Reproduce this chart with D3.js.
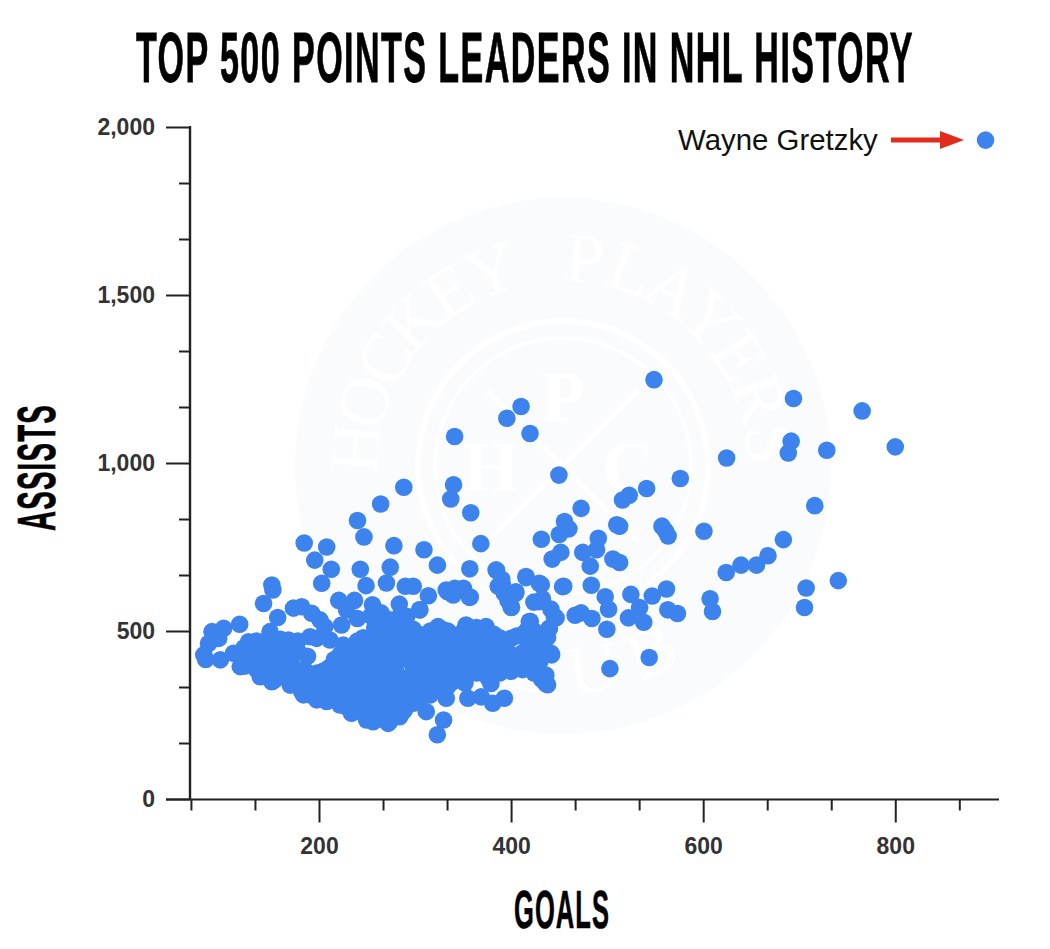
<!DOCTYPE html>
<html>
<head>
<meta charset="utf-8">
<style>html,body{margin:0;padding:0;background:#fff}svg{display:block}</style>
<script src="https://cdn.jsdelivr.net/npm/d3@7/dist/d3.min.js"></script>
</head>
<body>
<svg id="chart" width="1050" height="949"></svg>
<script>
const titleText = "TOP 500 POINTS LEADERS IN NHL HISTORY";
const xLabel = "GOALS";
const yLabel = "ASSISTS";
const calloutName = "Wayne Gretzky";
const watermarkTop = "HOCKEY PLAYERS";
const watermarkBottom = "CLUB";
const xMajorTicks = [200, 400, 600, 800];
const xMinorTicks = [66.67, 133.33, 266.67, 333.33, 466.67, 533.33, 666.67, 733.33, 866.67];
const yMajorTicks = [0, 500, 1000, 1500, 2000];
const yMinorTicks = [166.67, 333.33, 666.67, 833.33, 1166.67, 1333.33, 1666.67, 1833.33];

const gretzkyGoals = [894];
const gretzkyAssists = [1961];

const upperGoals = [548.8,694,765.5,410.4,395.6,419.7,341.2,691.6,688.6,624.4,728.7,800,449.8,576.2,288.3,340.1,337.2,541.1,264.2,523,516,716.2,358,240.1,472.9,513,510,557.1,560.7,563.5,600.8,455.6,460.2,450.2,246.8,431.5,683.5,184.6,208,278,368.5,309.3,490.8,489,474.6,451.8,442.8,506,513,482.4,195.6,667.5,655.5,639.4,624,323.3,357,212.8,243,274.2,384.9,415.7,390.3,386.6,202.8,249,270.2,289.9,298.1,454.8,483.5,431.5,707.2,705.5,740.7,561.8,547,524.7,498,533.8,607.2,609.7,563.2,573.2,501.5,522.2,538.1,499.7,472.9,484.2,466.7,543.8,502.9];
const upperAssists = [1248,1192,1155,1168,1133,1088,1079,1065,1030,1015,1038,1048,964,954,928,935,893,924,878,904,890,873,852,829,865,812,816,812,798,783,797,826,804,787,780,773,772,762,750,754,760,742,776,742,734,734,714,714,704,693,711,724,696,696,674,696,685,684,684,690,680,659,654,633,642,635,643,633,633,633,636,638,628,570,650,625,604,609,602,570,596,558,563,552,565,539,526,505,554,537,547,421,388];

const midGoals = [220.6,237,255.7,264.6,283.6,313.9,305,291.4,240,223.5,404.7,396.8,400.4,393,332.5,341.5,350.4,339.7,357.5,423.7,432.6,441.5,446.9,420,416.5,439.7,438,442.2,436,438,431.9,429.4,415.5,405,391,384.4,400,453.6,429,445,228.7,254,263,273.7,284,304.8,334,348,356.7,152,150.9,142.3,157];
const midAssists = [591,591,578,554,580,605,563,544,537,518,612,591,570,612,622,627,627,607,601,586,596,565,539,528,502,507,481,429,367,340,356,642,662,617,637,682,572,632,587,543,563,545,553,533,543,563,617,624,600,622,637,582,540];

const edgeGoals = [80,82,85,88.6,100.7,95.6,117.4,97.3,118,111,126.7,138.8,150.9,149,168.2,170,183.8,197.6,208,221.8,233.9,249.5,256.4,272,284,289,311.7,329.7,323.2,332.5,355,368.8,380.9,393,379,436,436,441.5,173.4,182,192.4,201,206,197.6,211.4,225.3,190.7,353.2,374,419,439.7,323.9];
const edgeAssists = [429,415,463,498,508,478,520,414,394,434,468,364,349,498,473,339,310,295,290,280,255,235,230,225,245,265,260,235,191,300,300,304,285,300,344,344,369,434,568,572,553,533,513,478,473,458,483,518,513,528,508,513];

const coreGoals = [122,122,122,135,135,135,135,148,148,148,148,165,165,165,160,172,172,172,172,178,178,188,185,185,185,198,198,198,210,210,210,210,222,222,222,222,222,222,234,234,234,234,234,234,234,246,246,246,246,246,246,246,246,246,258,258,258,258,258,258,258,258,258,258,258,268,268,268,268,268,268,268,268,268,268,268,280,280,280,280,280,280,280,280,280,292,292,292,292,292,292,292,304,304,304,304,304,304,304,304,316,316,316,316,316,316,316,316,328,328,328,328,328,328,328,328,340,340,340,340,340,340,352,352,352,352,352,352,352,364,364,364,364,364,364,376,376,376,376,376,376,388,388,388,388,388,400,400,400,400,412,412,412,412,424,424,424,424,424,434,434,434,252,262,274,264,276,240,250,286,296,310];
const coreAssists = [450,420,395,470,440,410,385,480,440,415,390,445,420,365,475,455,430,400,375,470,440,425,385,360,330,375,345,320,390,360,335,310,430,400,375,345,320,295,450,420,395,365,340,310,280,480,455,430,400,375,350,325,295,265,510,480,460,435,405,380,350,320,290,260,240,520,495,470,445,415,390,360,335,305,275,250,505,465,440,410,380,355,325,295,270,500,470,445,415,360,335,305,490,460,435,410,380,355,330,300,500,470,440,415,385,360,335,310,505,480,450,425,395,370,345,325,480,455,430,400,375,350,505,475,450,425,395,370,345,510,480,455,430,400,375,495,465,440,415,390,360,480,455,430,405,375,478,430,405,380,490,435,410,385,500,470,445,420,375,480,455,430,300,280,260,340,350,370,330,290,320,340];

const denseGoals = [128,128,128,141,141,141,141,154,154,154,154,170,170,170,170,182,182,182,191,191,191,204,204,204,204,216,216,216,216,216,228,228,228,228,228,228,228,240,240,240,240,240,240,240,240,252,252,252,252,252,252,252,263,263,263,263,263,263,263,274,274,274,274,274,274,274,286,286,286,286,286,286,298,298,298,298,298,310,310,310,310,322,322,322,322,334,334,334,334,346,346,346,358,358,358,370,370,382,382,382,394,394,406,406,418,418,430,430];
const denseAssists = [455,425,400,455,425,400,375,430,405,375,355,440,415,385,360,375,345,320,365,335,310,380,350,325,300,415,385,355,330,305,440,410,385,355,330,300,275,470,435,405,380,350,320,295,265,465,410,385,355,300,270,245,500,445,385,325,295,265,238,510,425,365,305,275,245,232,515,485,425,340,280,255,505,480,425,395,285,480,425,370,320,490,430,375,330,500,440,385,335,490,440,385,495,440,385,470,420,490,435,410,445,395,485,400,465,415,460,410];

const allGoals = upperGoals.concat(midGoals, edgeGoals, coreGoals, denseGoals, gretzkyGoals);
const allAssists = upperAssists.concat(midAssists, edgeAssists, coreAssists, denseAssists, gretzkyAssists);

const svg = d3.select("#chart");
const x = d3.scaleLinear().domain([65.7, 908]).range([190, 999]);
const y = d3.scaleLinear().domain([0, 2000]).range([799, 127]);
const AXIS = "#222", BLUE = "#3d83ee", WASH = "#fafbfc";

// faint watermark
const wm = svg.append("g").attr("transform", "translate(563,466)");
wm.append("circle").attr("r", 268).attr("fill", WASH);
wm.append("circle").attr("r", 145).attr("fill", "none").attr("stroke", "#fff").attr("stroke-width", 6);
wm.append("circle").attr("r", 128).attr("fill", "none").attr("stroke", "#fff").attr("stroke-width", 3);
wm.append("line").attr("x1",-75).attr("y1",75).attr("x2",75).attr("y2",-75).attr("stroke","#fff").attr("stroke-width",5);
wm.append("line").attr("x1",-75).attr("y1",-75).attr("x2",75).attr("y2",75).attr("stroke","#fff").attr("stroke-width",5);
function arcLetters(str, radius, midAngle, step, flip) {
  const chars = Array.from(str);
  chars.forEach((c, i) => {
    if (c === " ") return;
    const a = midAngle + (i - (chars.length - 1) / 2) * step * (flip ? -1 : 1);
    const rad = a * Math.PI / 180;
    wm.append("text")
      .attr("transform", `translate(${radius * Math.sin(rad)},${-radius * Math.cos(rad)}) rotate(${flip ? a + 180 : a})`)
      .attr("font-family", "Liberation Serif").attr("font-size", 70).attr("fill", "#fff")
      .attr("text-anchor", "middle").attr("dy", "0.33em").text(c);
  });
}
arcLetters(watermarkTop, 208, -0.5, 13, false);
arcLetters(watermarkBottom, 205, 180, 17, true);
[["P",0,-45],["H",-72,25],["C",65,25]].forEach(d => {
  wm.append("text").attr("x", d[1]).attr("y", d[2]).attr("font-family", "Liberation Serif").attr("font-weight", "bold")
    .attr("font-size", 72).attr("fill", "#fff").attr("text-anchor", "middle").text(d[0]);
});

// points
svg.append("g").selectAll("circle").data(allGoals).join("circle")
  .attr("cx", d => x(d))
  .attr("cy", (d, i) => y(allAssists[i]))
  .attr("r", 8.8)
  .attr("fill", BLUE);

// axes
function styleAxis(g) {
  g.selectAll("path.domain").remove();
  g.selectAll("line").attr("stroke", AXIS).attr("stroke-width", 2);
  g.selectAll("text").attr("font-family", "Liberation Sans").attr("font-weight", "bold")
    .attr("font-size", 23).attr("fill", "#333");
}
const xAxisMajor = svg.append("g").attr("transform", "translate(0,799.5)")
  .call(d3.axisBottom(x).tickValues(xMajorTicks).tickSize(23).tickSizeOuter(0).tickPadding(15).tickFormat(d3.format("d")));
styleAxis(xAxisMajor);
const xAxisMinor = svg.append("g").attr("transform", "translate(0,799.5)")
  .call(d3.axisBottom(x).tickValues(xMinorTicks).tickSize(11).tickFormat(""));
styleAxis(xAxisMinor);
const yAxisMajor = svg.append("g").attr("transform", "translate(190,0)")
  .call(d3.axisLeft(y).tickValues(yMajorTicks).tickSize(24).tickPadding(11).tickFormat(d3.format(",")));
styleAxis(yAxisMajor);
const yAxisMinor = svg.append("g").attr("transform", "translate(190,0)")
  .call(d3.axisLeft(y).tickValues(yMinorTicks).tickSize(11).tickFormat(""));
styleAxis(yAxisMinor);
svg.append("line").attr("x1", 190).attr("x2", 190).attr("y1", y(2000) - 1).attr("y2", y(0) + 1)
  .attr("stroke", AXIS).attr("stroke-width", 2.4);
svg.append("line").attr("x1", 166).attr("x2", 999).attr("y1", 799.5).attr("y2", 799.5)
  .attr("stroke", AXIS).attr("stroke-width", 2);

// heavy condensed headings, stretched to the poster-type proportions
function heading(str, px, py, len, capH, rotate) {
  const fs = 60;
  const t = svg.append("text").attr("font-family", "Liberation Sans Narrow, Liberation Sans").attr("font-weight", "bold")
    .attr("font-size", fs).attr("letter-spacing", 2.5).attr("fill", "#000").attr("stroke", "#000").attr("stroke-width", 0.7).text(str);
  const natural = t.node().getComputedTextLength();
  const sx = len / natural, sy = capH / (fs * 0.72);
  t.attr("transform", `translate(${px},${py})${rotate ? " rotate(-90)" : ""} scale(${sx},${sy})`);
}
heading(titleText, 136, 82, 778, 51, false);
heading(xLabel, 514, 928, 96, 38, false);
heading(yLabel, 55, 531, 127, 38, true);

// callout
svg.append("text").attr("x", 678).attr("y", 150).attr("font-family", "Liberation Sans")
  .attr("font-size", 29.4).attr("fill", "#111").text(calloutName);
svg.append("rect").attr("x", 891).attr("y", 137.5).attr("width", 52).attr("height", 5).attr("fill", "#e02d1b");
svg.append("path").attr("d", "M940 131 L964 140 L940 149 Z").attr("fill", "#e02d1b");
</script>
</body>
</html>
